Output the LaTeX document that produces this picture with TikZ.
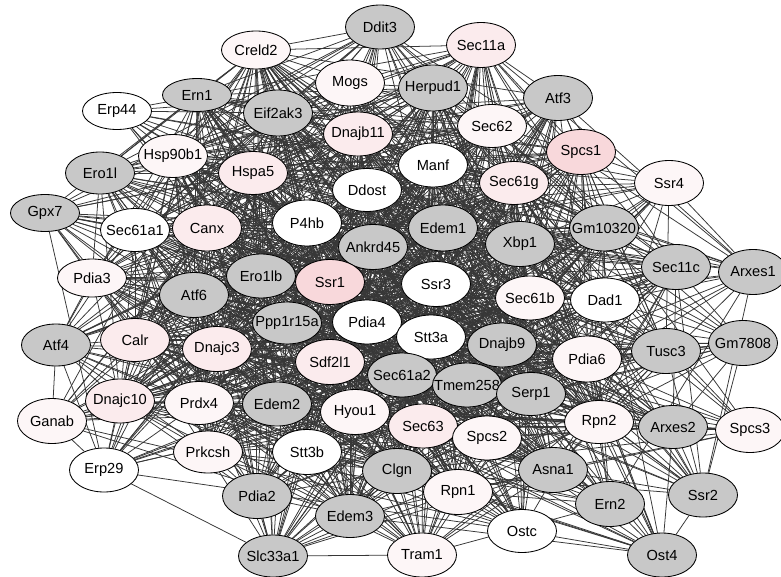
\documentclass[tikz,border=0pt]{standalone}
\usepackage{fontspec}
\setmainfont{Liberation Sans}
\usetikzlibrary{shapes.geometric,backgrounds}

\definecolor{genegray}{RGB}{200,200,200}
\definecolor{pinkhi}{RGB}{248,216,219}
\definecolor{pinkmid}{RGB}{251,235,237}
\definecolor{pinklo}{RGB}{253,246,247}
\definecolor{edgegray}{RGB}{55,55,55}

\tikzset{
  gene/.style={ellipse, draw=black, line width=0.6pt, fill=#1,
    minimum width=1.725cm, inner sep=0pt,
    font=\fontsize{10.4}{12}\selectfont,
    execute at begin node={\hbox to 0pt\bgroup\hss},
    execute at end node={\hss\egroup}},
  link/.style={draw=edgegray, line width=0.55pt}
}

% name / x / y / fill / height / weight  (pixel grid)
\def\genes{
Ddit3/380/27/genegray/44/0.75, Sec11a/481/45/pinkmid/45/0.75,
Creld2/256/50/pinklo/38/0.75, Mogs/350/83/pinklo/46/0.75,
Herpud1/433/88/genegray/46/1, Atf3/558/98/genegray/45/0.75,
Ern1/197/95/genegray/33/0.75, Erp44/117/111/white/37/0.55,
Eif2ak3/278/113/genegray/46/1, Sec62/492/126/pinklo/43/1,
Dnajb11/358/134/pinkmid/44/1, Spcs1/581/152/pinkhi/45/0.75,
Hsp90b1/173/156/pinklo/43/1, Manf/433/165/white/44/1,
Ero1l/100/173/genegray/42/0.75, Hspa5/253/173/pinkmid/43/1,
Sec61g/514/183/pinkmid/43/1, Ssr4/669/183/pinklo/45/0.55,
Ddost/367/190/white/43/1, Gpx7/45/213/genegray/37/0.5,
P4hb/307/223/white/46/1, Canx/207/228/pinkmid/46/1,
Edem1/443/228/genegray/46/1, Gm10320/604/228/genegray/46/0.75,
Sec61a1/135/230/white/43/0.75, Xbp1/520/244/genegray/45/1,
Ankrd45/373/247/genegray/45/1, Sec11c/676/267/genegray/45/0.75,
Arxes1/753/272/genegray/45/0.55, Ero1lb/261/276/genegray/44/1,
Pdia3/92/278/pinklo/38/0.75, Ssr1/330/282/pinkhi/45/1,
Ssr3/436/284/white/45/1, Atf6/194/295/genegray/45/1,
Sec61b/530/298/pinklo/44/1, Dad1/605/300/white/44/0.75,
Pdia4/367/322/white/44/1, Ppp1r15a/287/323/genegray/42/1,
Stt3a/431/337/white/44/1, Calr/135/340/pinkmid/43/1,
Gm7808/743/343/genegray/45/0.55, Dnajb9/502/345/genegray/44/1,
Atf4/56/345/genegray/42/0.7, Dnajc3/217/349/pinkmid/45/1,
Tusc3/666/351/genegray/45/0.75, Pdia6/587/359/pinklo/46/1,
Sdf2l1/330/362/pinkmid/45/1, Sec61a2/402/375/genegray/44/1,
Tmem258/467/385/genegray/44/1, Serp1/531/394/genegray/43/1,
Dnajc10/120/401/pinkmid/44/0.75, Prdx4/199/403/pinklo/43/0.8,
Edem2/277/404/genegray/44/1, Hyou1/355/412/pinklo/45/1,
Ganab/52/421/pinklo/45/0.55, Rpn2/599/422/pinklo/43/0.75,
Sec63/423/426/pinkmid/44/1, Arxes2/673/427/genegray/43/0.7,
Spcs3/750/430/pinklo/45/0.4, Spcs2/487/438/pinklo/44/0.8,
Prkcsh/208/452/pinklo/42/0.7, Stt3b/307/452/white/45/0.8,
Asna1/553/470/genegray/45/0.75, Erp29/104/470/white/44/0.5,
Clgn/397/471/genegray/45/0.8, Rpn1/458/492/pinklo/45/0.75,
Ssr2/703/495/genegray/44/0.55, Pdia2/257/496/genegray/45/0.7,
Ern2/610/504/genegray/45/0.55, Edem3/350/516/genegray/43/0.75,
Ostc/522/531/white/43/0.55, Ost4/662/555/genegray/44/0.55,
Tram1/422/555/pinklo/44/0.55, Slc33a1/273/556/genegray/42/0.6}

\begin{document}
\begin{tikzpicture}[x=0.025cm,y=-0.025cm]
  \useasboundingbox (0,0) rectangle (781,577);
  \foreach \a/\xa/\ya/\col/\h/\wa in \genes
    \node[gene=\col, minimum height=\h*0.025cm] (\a) at (\xa,\ya) {\a};
  % links, denser between near and central genes
  \begin{scope}[on background layer]
    \pgfmathsetseed{4711}
    \foreach \a/\xa/\ya/\col/\h/\wa [count=\i] in \genes {
      \foreach \b/\xb/\yb/\colb/\hb/\wb [count=\j] in \genes {
        \ifnum\j>\i
          \pgfmathsetmacro\p{\wa*\wb*(1.5-veclen((\xa-\xb)/100,(\ya-\yb)/100)/4.5)}
          \pgfmathsetmacro\r{rnd}
          \ifdim\r pt<\p pt \draw[link] (\a) -- (\b); \fi
        \fi
      }
    }
  \end{scope}
\end{tikzpicture}
\end{document}
